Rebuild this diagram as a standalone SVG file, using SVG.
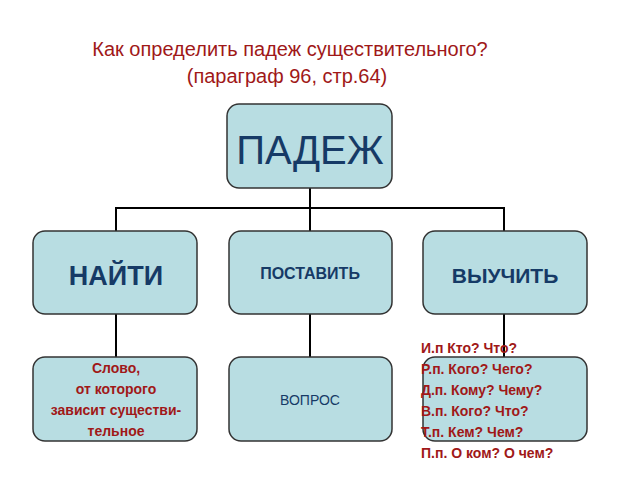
<svg xmlns="http://www.w3.org/2000/svg" width="640" height="480" viewBox="0 0 640 480">
<style>
.b{fill:#b8dde2;stroke:#333;stroke-width:1.5}
.t{font-family:"Liberation Sans",Arial,sans-serif}
.r{fill:#a01818;font-weight:bold;font-size:14px}
.n{fill:#163a66}
</style>
<rect width="640" height="480" fill="#fff"/>
<text class="t" x="290" y="56" text-anchor="middle" font-size="20" fill="#a01818">Как определить падеж существительного?</text>
<text class="t" x="287" y="83" text-anchor="middle" font-size="20" fill="#a01818">(параграф 96, стр.64)</text>
<g id="connectors" stroke="#000" stroke-width="2" fill="none">
<path d="M310 188V208M116 231V208H504V231M310 208V231"/>
<path d="M116 314V357M310 314V357M504 314V357"/>
</g>
<g id="padezh"><rect class="b" x="227" y="104" width="165" height="84" rx="12"/><text class="t n" x="310" y="164" text-anchor="middle" font-size="40">ПАДЕЖ</text></g>
<g id="naiti"><rect class="b" x="33" y="231" width="164" height="83" rx="12"/><text class="t n" x="116" y="285" text-anchor="middle" font-size="27" font-weight="bold">НАЙТИ</text></g>
<g id="postavit"><rect class="b" x="229" y="231" width="163" height="83" rx="12"/><text class="t n" x="310" y="279" text-anchor="middle" font-size="16" font-weight="bold">ПОСТАВИТЬ</text></g>
<g id="vyuchit"><rect class="b" x="423" y="231" width="164" height="83" rx="12"/><text class="t n" x="505" y="283" text-anchor="middle" font-size="21" font-weight="bold">ВЫУЧИТЬ</text></g>
<g id="slovo"><rect class="b" x="33" y="357" width="164" height="84" rx="12"/>
<text class="t r" text-anchor="middle"><tspan x="116" y="373">Слово,</tspan><tspan x="116" y="394">от которого</tspan><tspan x="116" y="415">зависит существи-</tspan><tspan x="116" y="436">тельное</tspan></text></g>
<g id="vopros"><rect class="b" x="229" y="357" width="163" height="84" rx="12"/><text class="t" x="310" y="405" text-anchor="middle" font-size="14" fill="#163a66">ВОПРОС</text></g>
<g id="padezhi"><rect class="b" x="423" y="357" width="164" height="84" rx="12"/>
<text class="t r"><tspan x="421" y="353">И.п Кто? Что?</tspan><tspan x="421" y="374">Р.п. Кого? Чего?</tspan><tspan x="421" y="395">Д.п. Кому? Чему?</tspan><tspan x="421" y="416">В.п. Кого? Что?</tspan><tspan x="421" y="437">Т.п. Кем? Чем?</tspan><tspan x="421" y="458">П.п. О ком? О чем?</tspan></text></g>
</svg>
